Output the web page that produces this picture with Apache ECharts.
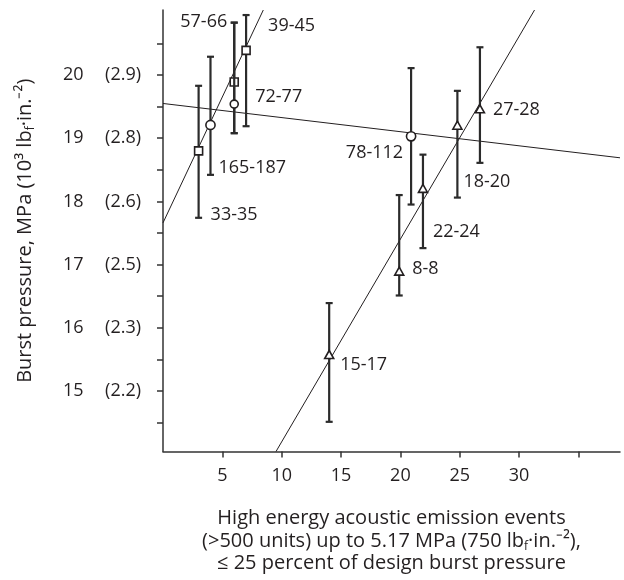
<!DOCTYPE html>
<html>
<head>
<meta charset="utf-8">
<script src="https://cdn.jsdelivr.net/npm/echarts@6/dist/echarts.min.js"></script>
<style>
  html, body { margin: 0; padding: 0; background: #fff; }
  #chart { width: 624px; height: 580px; }
</style>
</head>
<body>
<div id="chart"></div>
<script>
// data
const labels = ['33-35', '165-187', '57-66', '72-77', '39-45', '78-112', '22-24', '18-20', '27-28', '8-8', '15-17'];
const kinds = ['square', 'circle', 'square', 'circle', 'square', 'circle', 'triangle', 'triangle', 'triangle', 'triangle', 'triangle'];
const events = [3, 4, 6, 6, 7, 20.9, 21.9, 24.8, 26.7, 19.9, 14];
const burst = [18.8, 19.21, 19.89, 19.54, 20.39, 19.03, 18.19, 19.19, 19.45, 16.88, 15.56];
const barHigh = [19.83, 20.29, 20.83, 20.83, 20.95, 20.11, 18.74, 19.75, 20.44, 18.1, 16.39];
const barLow = [17.74, 18.42, 19.08, 19.08, 19.19, 17.95, 17.26, 18.06, 18.61, 16.51, 14.51];

// fitted lines (end points)
const fitLeftX = [0, 8.45];
const fitLeftY = [17.66, 21.03];
const fitFlatX = [0, 38.5];
const fitFlatY = [19.55, 18.69];
const fitRightX = [9.52, 31.3];
const fitRightY = [14.04, 21.03];

// tick labels
const xTicks = [5, 10, 15, 20, 25, 30, 35];
const xLabels = [5, 10, 15, 20, 25, 30];
const yTicks = [14.5, 15, 15.5, 16, 16.5, 17, 17.5, 18, 18.5, 19, 19.5, 20, 20.5];
const mpaLabels = [15, 16, 17, 18, 19, 20];
const psiLabels = ['2.2', '2.3', '2.5', '2.6', '2.8', '2.9'];

// where each label sits relative to its point
const labelPlace = [
  [12, 64, 'left'], [8, 43, 'left'], [-7, -60, 'right'], [21, -7, 'left'], [22, -25, 'left'],
  [-8, 17, 'right'], [10, 42, 'left'], [6, 56, 'left'], [13, 0, 'left'], [13, -3, 'left'], [11, 9, 'left']
];

const FONT = 'Open Sans';
const INK = '#231f20';

let chart = echarts.init(document.getElementById('chart'));

function fitLine(xs, ys) {
  return {
    type: 'line',
    data: xs.map((x, i) => [x, ys[i]]),
    symbol: 'none',
    lineStyle: { color: INK, width: 1 },
    z: 2,
    silent: true,
    animation: false
  };
}

function renderPoint(params, api) {
  const i = params.dataIndex;
  const p = api.coord([api.value(0), api.value(1)]);
  const hi = api.coord([api.value(0), api.value(2)]);
  const lo = api.coord([api.value(0), api.value(3)]);
  const barStyle = { stroke: '#2b2b2b', lineWidth: 2.2 };
  const kids = [
    { type: 'line', shape: { x1: hi[0], y1: hi[1], x2: lo[0], y2: lo[1] }, style: barStyle },
    { type: 'line', shape: { x1: hi[0] - 3.5, y1: hi[1], x2: hi[0] + 3.5, y2: hi[1] }, style: barStyle },
    { type: 'line', shape: { x1: lo[0] - 3.5, y1: lo[1], x2: lo[0] + 3.5, y2: lo[1] }, style: barStyle }
  ];
  const mk = { fill: '#fff', stroke: INK, lineWidth: 1.6 };
  const k = kinds[i];
  if (k === 'square') {
    kids.push({ type: 'rect', shape: { x: p[0] - 4, y: p[1] - 4, width: 8, height: 8 }, style: mk });
  } else if (k === 'circle') {
    kids.push({ type: 'circle', shape: { cx: p[0], cy: p[1], r: i === 3 ? 4 : 4.6 }, style: mk });
  } else {
    kids.push({ type: 'polygon', shape: { points: [[p[0], p[1] - 5], [p[0] + 4.5, p[1] + 3], [p[0] - 4.5, p[1] + 3]] }, style: mk });
  }
  const lp = labelPlace[i];
  kids.push({
    type: 'text',
    x: p[0] + lp[0],
    y: p[1] + lp[1],
    style: {
      text: labels[i], fill: INK, font: '18px "' + FONT + '"',
      align: lp[2], verticalAlign: 'middle'
    }
  });
  return { type: 'group', children: kids };
}

const richName = {
  fontFamily: FONT, fontSize: 20, color: INK, lineHeight: 22.5,
  rich: {
    t: { fontFamily: FONT, fontSize: 20, color: INK, lineHeight: 22.5 },
    s: { fontFamily: FONT, fontSize: 12, color: INK, verticalAlign: 'bottom', lineHeight: 15 }
  }
};

let option = {
  animation: false,
  grid: { left: 163, top: 10, right: 4, bottom: 128 },
  xAxis: {
    type: 'value',
    min: 0,
    max: 38.5,
    name: '{t|High energy acoustic emission events}\n{t|(>500 units) up to 5.17 MPa (750 lb}{s|f}{t|·in.⁻²),}\n{t|≤ 25 percent of design burst pressure}',
    nameLocation: 'middle',
    nameGap: 56,
    nameTextStyle: richName,
    axisLine: { lineStyle: { color: '#333', width: 1.5 } },
    axisTick: { show: true, customValues: xTicks, length: 6, inside: false, lineStyle: { color: '#333', width: 1.5 } },
    axisLabel: { customValues: xLabels, margin: 15, fontFamily: FONT, fontSize: 18, color: INK },
    splitLine: { show: false }
  },
  yAxis: {
    type: 'value',
    min: 14.04,
    max: 21.03,
    name: '{t|Burst pressure, MPa (10³ lb}{s|f}{t|·in.⁻²)}',
    nameLocation: 'middle',
    nameGap: 126,
    nameTextStyle: richName,
    axisLine: { show: true, lineStyle: { color: '#333', width: 1.5 } },
    axisTick: { show: true, customValues: yTicks, length: 6, lineStyle: { color: '#333', width: 1.5 } },
    axisLabel: {
      customValues: mpaLabels,
      margin: 22,
      formatter: function (v) {
        const j = mpaLabels.indexOf(Math.round(v));
        return '{a|' + Math.round(v) + '}{b|(' + psiLabels[j] + ')}';
      },
      rich: {
        a: { fontFamily: FONT, fontSize: 18, color: INK, width: 42, align: 'left' },
        b: { fontFamily: FONT, fontSize: 18, color: INK }
      }
    },
    splitLine: { show: false }
  },
  series: [
    fitLine(fitLeftX, fitLeftY),
    fitLine(fitFlatX, fitFlatY),
    fitLine(fitRightX, fitRightY),
    {
      type: 'custom',
      renderItem: renderPoint,
      data: events.map((x, i) => [x, burst[i], barHigh[i], barLow[i]]),
      clip: false,
      z: 5
    }
  ]
};

chart.setOption(option);
</script>
</body>
</html>
